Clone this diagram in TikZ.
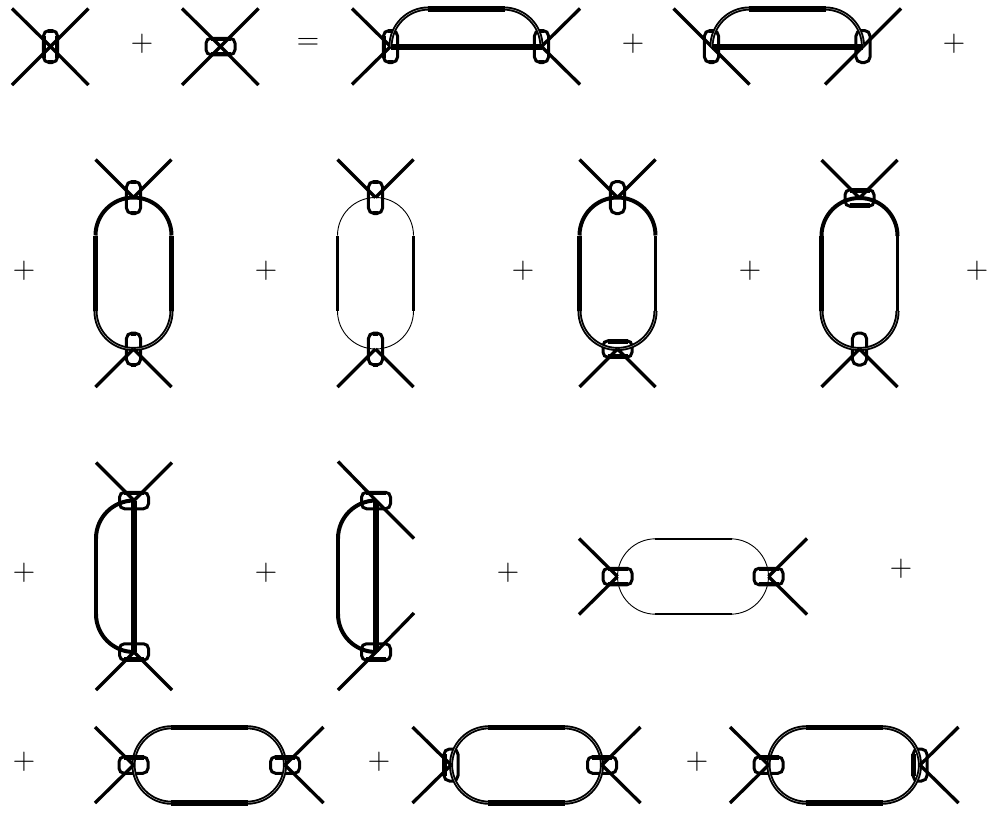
\documentclass[tikz,border=0pt]{standalone}
\usetikzlibrary{calc}
\tikzset{
  sym/.style={inner sep=0pt,font=\fontsize{31}{31}\selectfont,text=black},
  vpill/.style={draw,line width=3pt,rounded corners=5.6pt,minimum width=14.2pt,minimum height=32pt,inner sep=0pt},
  hpill/.style={draw,line width=3pt,rounded corners=5pt,minimum width=29pt,minimum height=16.5pt,inner sep=0pt},
  legline/.style={line width=3.3pt},
  bar/.style={line width=6pt},
  pillbar/.style={line width=4.4pt},
  dbl/.style={rounded corners=38pt,line width=1.9pt,double=white,double distance=0.25pt},
  solidarc/.style={rounded corners=38pt,line width=4pt},
  thinarc/.style={rounded corners=38pt,line width=0.9pt}
}
\newcommand\legsL[1]{\draw[legline] (#1.center) -- ++(-38.5,-38) (#1.center) -- ++(-38.5,38);}
\newcommand\legsR[1]{\draw[legline] (#1.center) -- ++(38.5,-38) (#1.center) -- ++(38.5,38);}
\newcommand\legsT[1]{\draw[legline] (#1.center) -- ++(-38,-38) (#1.center) -- ++(38,-38);}
\newcommand\legsB[1]{\draw[legline] (#1.center) -- ++(-38,38) (#1.center) -- ++(38,38);}
\newcommand\htop[1]{\draw[pillbar] ([xshift=6pt,yshift=-2.2pt]#1.north west) -- ([xshift=-6pt,yshift=-2.2pt]#1.north east);}
\newcommand\hbot[1]{\draw[pillbar] ([xshift=6pt,yshift=2.2pt]#1.south west) -- ([xshift=-6pt,yshift=2.2pt]#1.south east);}
\newcommand\vside[1]{\draw[line width=4.2pt] ([xshift=2.1pt,yshift=-6.5pt]#1.north west) -- ([xshift=2.1pt,yshift=6.5pt]#1.south west);}
\newcommand\vsider[1]{\draw[line width=4.2pt] ([xshift=-2.1pt,yshift=-6.5pt]#1.north east) -- ([xshift=-2.1pt,yshift=6.5pt]#1.south east);}
\newcommand\vends[1]{\draw[line width=4pt] ([xshift=6pt,yshift=-2pt]#1.north west) -- ([xshift=-6pt,yshift=-2pt]#1.north east)
  ([xshift=6pt,yshift=2pt]#1.south west) -- ([xshift=-6pt,yshift=2pt]#1.south east);}
% vertical loop: top node, bottom node, top arc style, bottom arc style, left width, right width
\newcommand\vloop[6]{%
  \draw[#3] (#1.center) ++(-38,38) -- ++(0,-38) -- ++(76,0) -- ++(0,38);
  \draw[#4] (#2.center) ++(-38,-38) -- ++(0,38) -- ++(76,0) -- ++(0,-38);
  \draw[line width=#5] ($(#1.center)+(-38,38)$) -- ($(#2.center)+(-38,-38)$);
  \draw[line width=#6] ($(#1.center)+(38,38)$) -- ($(#2.center)+(38,-38)$);}
% horizontal loop: left node, right node, arc style, top width, bottom width
\newcommand\hloop[5]{%
  \draw[#3] (#1.center) ++(38,-37.7) -- ++(-38,0) -- ++(0,75.4) -- ++(38,0);
  \draw[#3] (#2.center) ++(-38,-37.7) -- ++(38,0) -- ++(0,75.4) -- ++(-38,0);
  \draw[line width=#4] ($(#1.center)+(37,-37.7)$) -- ($(#2.center)+(-37,-37.7)$);
  \draw[line width=#5] ($(#1.center)+(37,37.7)$) -- ($(#2.center)+(-37,37.7)$);}
% top half with bar: left node, right node
\newcommand\barloop[2]{%
  \draw[dbl] (#1.center) -- ++(0,-38) -- ($(#2.center)+(0,-38)$) -- (#2.center);
  \draw[bar] (#1.center) -- (#2.center);
  \draw[bar] ($(#1.center)+(37,-38)$) -- ($(#2.center)+(-37,-38)$);}
% half loop with vertical bar: top node, bottom node, side width
\newcommand\halfloop[3]{%
  \draw[solidarc] (#1.center) -- ++(-38,0) -- ++(0,38);
  \draw[solidarc] (#2.center) -- ++(-38,0) -- ++(0,-38);
  \draw[line width=#3] ($(#1.center)+(-38,37)$) -- ($(#2.center)+(-38,-37)$);
  \draw[bar] (#1.center) -- (#2.center);}
\begin{document}
\begin{tikzpicture}[x=1pt,y=-1pt]
\useasboundingbox (0,0) rectangle (996,814);
% operators
\node[sym] (p1) at (142,44) {+};
\node[sym] (e1) at (308,44) {=};
\node[sym] (p2) at (633,44) {+};
\node[sym] (p3) at (954,44) {+};
\node[sym] (p4) at (24,271) {+};
\node[sym] (p5) at (266,271) {+};
\node[sym] (p6) at (523,271) {+};
\node[sym] (p7) at (750,271) {+};
\node[sym] (p8) at (977,271) {+};
\node[sym] (p9) at (24,572.5) {+};
\node[sym] (p10) at (266,572.5) {+};
\node[sym] (p11) at (508,572.5) {+};
\node[sym] (p12) at (901,569) {+};
\node[sym] (p13) at (24,762) {+};
\node[sym] (p14) at (379,762) {+};
\node[sym] (p15) at (697,762) {+};
% row 1: single vertices
\node[vpill] (a1) at (50.5,46.5) {};
\draw[legline] (a1.center) -- ++(-38.5,-38) (a1.center) -- ++(38,-38) (a1.center) -- ++(-38.5,38.5) (a1.center) -- ++(38,38.5);
\vside{a1}\vsider{a1}\vends{a1}
\node[hpill] (a2) at (220.5,46.5) {};
\draw[legline] (a2.center) -- ++(-38.5,-38) (a2.center) -- ++(38,-38) (a2.center) -- ++(-38.5,38.5) (a2.center) -- ++(38,38.5);
\htop{a2}\hbot{a2}
% row 1: two vertices with a bar
\node[vpill] (b1) at (390.5,46.5) {};
\node[vpill] (b2) at (541.5,46.5) {};
\legsL{b1}\legsR{b2}
\barloop{b1}{b2}
\vside{b1}\vends{b1}\vends{b2}
\node[vpill] (c1) at (711.5,46.5) {};
\node[vpill] (c2) at (863,46.5) {};
\draw[legline] (c1.center) -- ++(-38,-38) (c1.center) -- ++(38,38);
\draw[legline] (c2.center) -- ++(38,-38) (c2.center) -- ++(-38,38);
\barloop{c1}{c2}
\vends{c1}
% row 2
\node[vpill] (d1) at (133.5,197.5) {};
\node[vpill] (d2) at (133.5,349) {};
\vloop{d1}{d2}{solidarc}{dbl}{5pt}{5pt}
\legsT{d1}\legsB{d2}
\vends{d1}\vends{d2}
\node[vpill] (e2) at (375.5,197.5) {};
\node[vpill] (f2) at (375.5,349) {};
\vloop{e2}{f2}{thinarc}{thinarc}{3pt}{3pt}
\legsT{e2}\legsB{f2}
\vends{e2}\vends{f2}
\node[vpill] (g1) at (617.5,197.5) {};
\node[hpill] (g2) at (617.5,349) {};
\vloop{g1}{g2}{solidarc}{dbl}{5pt}{3.8pt}
\legsT{g1}\legsB{g2}
\htop{g2}\hbot{g2}
\node[hpill] (h1) at (859.5,198) {};
\node[vpill] (h2) at (859.5,349) {};
\vloop{h1}{h2}{solidarc}{dbl}{5pt}{3.8pt}
\legsT{h1}\legsB{h2}
\htop{h1}\hbot{h1}
% row 3
\node[hpill] (i1) at (134,500.5) {};
\node[hpill] (i2) at (134,652) {};
\halfloop{i1}{i2}{4.5pt}
\legsT{i1}\legsB{i2}
\htop{i1}\hbot{i2}
\node[hpill] (j1) at (376,500.5) {};
\node[hpill] (j2) at (376,652) {};
\halfloop{j1}{j2}{4.5pt}
\draw[legline] (j1.center) -- ++(-38,-39) (j1.center) -- ++(38,38);
\draw[legline] (j2.center) -- ++(-38,38) (j2.center) -- ++(38,-39);
\htop{j1}\hbot{j2}
\node[hpill] (k1) at (617.5,576.5) {};
\node[hpill] (k2) at (768.5,576.5) {};
\hloop{k1}{k2}{thinarc}{2.4pt}{2.4pt}
\legsL{k1}\legsR{k2}
\htop{k1}\hbot{k1}\htop{k2}\hbot{k2}
% row 4
\node[hpill] (l1) at (133.5,765) {};
\node[hpill] (l2) at (285,765) {};
\hloop{l1}{l2}{dbl}{4.6pt}{6pt}
\legsL{l1}\legsR{l2}
\htop{l1}\htop{l2}
\node[vpill] (m1) at (451,765) {};
\node[hpill] (m2) at (602,765) {};
\hloop{m1}{m2}{dbl}{4.6pt}{6pt}
\legsL{m1}\legsR{m2}
\htop{m2}\vside{m1}
\node[hpill] (n1) at (768.5,765) {};
\node[vpill] (n2) at (920,765) {};
\hloop{n1}{n2}{dbl}{4.6pt}{6pt}
\legsL{n1}\legsR{n2}
\htop{n1}\vside{n2}
\end{tikzpicture}
\end{document}
